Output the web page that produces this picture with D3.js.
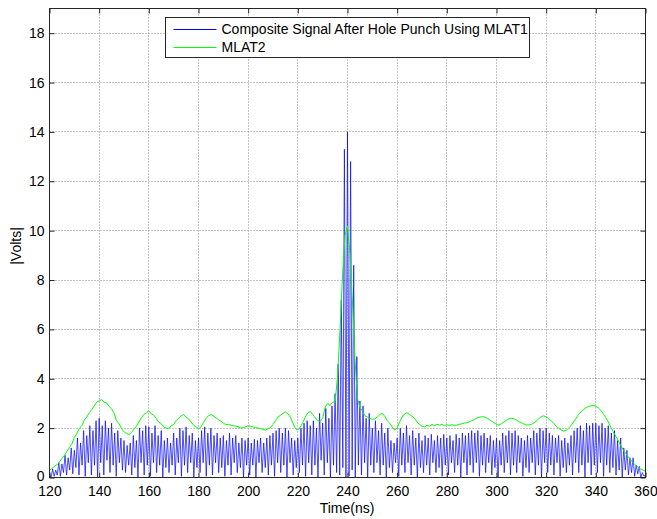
<!DOCTYPE html>
<html>
<head>
<meta charset="utf-8">
<script src="https://cdn.jsdelivr.net/npm/d3@7"></script>
<style>
  body { margin: 0; background: #fff; }
  text { font-family: "Liberation Sans", Arial, sans-serif; }
</style>
</head>
<body>
<div id="chart"></div>
<script>
// Axis ticks
const xTicks = [120, 140, 160, 180, 200, 220, 240, 260, 280, 300, 320, 340, 360];
const yTicks = [0, 2, 4, 6, 8, 10, 12, 14, 16, 18];

// Composite signal: one peak and one trough per 1.25 ns cycle, starting at 120 ns
const blueStart = 120;
const blueCycle = 1.25;
const bluePeak = [
  0.15, 0.35, 0.3, 0.6, 0.55, 0.9, 0.8, 1.2,
  1.1, 1.6, 1.4, 1.9, 1.7, 2.1, 1.9, 2.3,
  2.4, 2.1, 2.3, 2.0, 2.2, 1.8, 1.9, 1.6,
  1.5, 1.3, 1.4, 1.7, 1.5, 2.0, 1.9, 2.1,
  2.05, 1.8, 2.1, 1.7, 1.9, 1.5, 1.6, 1.4,
  1.8, 1.6, 2.0, 1.9, 2.05, 1.7, 1.8, 1.5,
  1.6, 1.9, 2.05, 1.8, 2.0, 1.7, 1.8, 1.6,
  1.7, 1.5, 1.8, 1.6, 1.7, 1.4, 1.6, 1.5,
  1.6, 1.4, 1.55, 1.5, 1.6, 1.4, 1.6, 1.7,
  1.8, 1.9, 2.0, 1.8, 2.0, 1.9, 1.6, 1.5,
  1.6, 2.0, 2.2, 2.3, 2.1, 2.3, 2.0, 2.6,
  2.2, 2.8, 2.4, 2.9, 3.4, 4.6, 7.2, 13.3,
  14.0, 12.8, 8.6, 4.9, 3.1, 2.9, 2.4, 2.6,
  2.0, 2.3, 1.9, 2.2, 1.8, 2.0, 1.5, 1.4,
  1.6, 2.0, 1.8, 2.1, 1.7, 1.9, 1.6, 1.8,
  1.5, 1.7, 1.6, 1.75, 1.5, 1.7, 1.6, 1.75,
  1.6, 1.7, 1.5, 1.75, 1.6, 1.8, 1.7, 1.8,
  1.9, 1.8, 1.9, 1.7, 1.8, 1.6, 1.7, 1.5,
  1.6, 1.5, 1.8, 1.7, 1.9, 1.8, 1.9, 1.7,
  1.6, 1.5, 1.7, 1.6, 1.9, 1.8, 2.0, 1.9,
  2.0, 1.8, 1.7, 1.6, 1.7, 1.5, 1.6, 1.4,
  1.7, 1.9, 2.0, 2.1, 1.9, 2.2, 2.1, 2.2,
  2.2, 2.1, 2.2, 2.0, 2.1, 1.8, 1.9, 1.5,
  1.6, 1.2, 1.1, 0.8, 0.8, 0.5, 0.45, 0.2,
  0.1
];
const blueTrough = [
  0.0, 0.05, 0.1, 0.05, 0.2, 0.1, 0.3, 0.15,
  0.4, 0.1, 0.5, 0.05, 0.6, 0.1, 0.5, 0.0,
  0.6, 0.1, 0.7, 0.2, 0.5, 0.05, 0.6, 0.3,
  0.2, 0.5, 0.1, 0.4, 0.0, 0.6, 0.1, 0.5,
  0.05, 0.6, 0.2, 0.5, 0.0, 0.4, 0.2, 0.5,
  0.1, 0.6, 0.05, 0.5, 0.2, 0.6, 0.0, 0.4,
  0.2, 0.6, 0.05, 0.5, 0.1, 0.6, 0.2, 0.4,
  0.05, 0.5, 0.1, 0.6, 0.2, 0.4, 0.0, 0.5,
  0.1, 0.5, 0.0, 0.6, 0.2, 0.4, 0.1, 0.5,
  0.05, 0.6, 0.2, 0.5, 0.0, 0.6, 0.1, 0.4,
  0.2, 0.5, 0.05, 0.6, 0.1, 0.5, 0.0, 0.7,
  0.1, 0.6, 0.0, 0.5, 0.2, 0.1, 0.4, 0.0,
  0.05, 0.3, 0.0, 0.5, 0.1, 0.6, 0.0, 0.5,
  0.2, 0.6, 0.1, 0.5, 0.0, 0.4, 0.2, 0.6,
  0.05, 0.5, 0.2, 0.6, 0.1, 0.5, 0.0, 0.4,
  0.2, 0.5, 0.1, 0.6, 0.2, 0.4, 0.05, 0.5,
  0.1, 0.6, 0.2, 0.5, 0.0, 0.6, 0.1, 0.5,
  0.2, 0.6, 0.05, 0.5, 0.2, 0.6, 0.1, 0.4,
  0.0, 0.5, 0.2, 0.6, 0.1, 0.5, 0.2, 0.6,
  0.05, 0.4, 0.2, 0.6, 0.1, 0.5, 0.0, 0.6,
  0.2, 0.5, 0.1, 0.6, 0.05, 0.4, 0.2, 0.5,
  0.1, 0.6, 0.2, 0.5, 0.0, 0.6, 0.1, 0.5,
  0.2, 0.6, 0.05, 0.5, 0.2, 0.4, 0.1, 0.3,
  0.0, 0.3, 0.1, 0.2, 0.05, 0.15, 0.0, 0.05
];

// MLAT2: one value per ns from 120 to 360
const greenStart = 120;
const greenStep = 1;
const greenValues = [
  0.30, 0.36, 0.45, 0.52, 0.62, 0.78, 0.90, 1.05, 1.22, 1.35,
  1.62, 1.78, 1.98, 2.10, 2.32, 2.45, 2.62, 2.75, 2.90, 3.05,
  3.10, 3.16, 3.05, 3.02, 2.88, 2.78, 2.60, 2.30, 2.18, 1.98,
  1.85, 1.78, 1.74, 1.82, 1.95, 2.08, 2.25, 2.42, 2.55, 2.62,
  2.70, 2.58, 2.52, 2.38, 2.25, 2.18, 2.05, 2.00, 1.98, 2.10,
  2.15, 2.30, 2.40, 2.50, 2.55, 2.45, 2.38, 2.25, 2.12, 2.05,
  1.98, 2.05, 2.22, 2.40, 2.50, 2.55, 2.50, 2.42, 2.35, 2.28,
  2.20, 2.15, 2.15, 2.12, 2.10, 2.08, 2.05, 2.00, 2.02, 2.05,
  2.10, 2.08, 2.05, 2.02, 2.00, 1.98, 1.95, 1.92, 1.98, 2.02,
  2.15, 2.30, 2.45, 2.52, 2.60, 2.66, 2.58, 2.45, 2.20, 1.98,
  1.92, 2.05, 2.22, 2.45, 2.62, 2.68, 2.55, 2.42, 2.30, 2.28,
  2.40, 2.85, 3.00, 2.92, 3.05, 3.05, 4.10, 6.00, 8.20, 9.80,
  10.20, 9.00, 7.10, 4.80, 3.20, 2.85, 2.70, 2.50, 2.45, 2.40,
  2.35, 2.38, 2.45, 2.55, 2.60, 2.48, 2.30, 2.20, 2.05, 1.92,
  2.00, 2.25, 2.45, 2.58, 2.62, 2.55, 2.48, 2.40, 2.25, 2.15,
  2.08, 2.05, 2.12, 2.08, 2.15, 2.10, 2.16, 2.12, 2.15, 2.10,
  2.14, 2.10, 2.14, 2.10, 2.12, 2.15, 2.18, 2.20, 2.22, 2.25,
  2.30, 2.35, 2.40, 2.44, 2.46, 2.46, 2.42, 2.36, 2.28, 2.22,
  2.15, 2.12, 2.18, 2.25, 2.32, 2.38, 2.40, 2.38, 2.33, 2.27,
  2.22, 2.17, 2.13, 2.13, 2.15, 2.20, 2.28, 2.38, 2.46, 2.50,
  2.45, 2.38, 2.30, 2.20, 2.08, 2.00, 1.93, 1.88, 1.90, 2.00,
  2.10, 2.25, 2.40, 2.55, 2.66, 2.75, 2.82, 2.88, 2.90, 2.92,
  2.88, 2.82, 2.72, 2.58, 2.42, 2.25, 2.05, 1.85, 1.68, 1.50,
  1.30, 1.12, 0.98, 0.85, 0.72, 0.60, 0.50, 0.42, 0.35, 0.30,
  0.25
];

const legendLabels = ["Composite Signal After Hole Punch Using MLAT1", "MLAT2"];
const seriesColors = ["#0000ff", "#00ff00"];

// Set up the dimensions and margins
const width = 657;
const height = 519;
const margin = { top: 8, right: 12, bottom: 42, left: 49 };
const innerW = width - margin.left - margin.right;
const innerH = height - margin.top - margin.bottom;

const svg = d3.select("#chart")
    .append("svg")
    .attr("width", width)
    .attr("height", height);

const g = svg.append("g")
    .attr("transform", `translate(${margin.left + 0.5},${margin.top + 0.5})`);

const x = d3.scaleLinear().domain([120, 360]).range([0, innerW]);
const y = d3.scaleLinear().domain([0, 19]).range([innerH, 0]);

// Dotted grid
g.append("g").selectAll("line")
    .data(xTicks.slice(1, -1))
    .enter().append("line")
    .attr("x1", d => Math.round(x(d))).attr("x2", d => Math.round(x(d)))
    .attr("y1", 0).attr("y2", innerH)
    .attr("stroke", "#8c8c8c")
    .attr("stroke-dasharray", "1,2");

g.append("g").selectAll("line")
    .data(yTicks.slice(1))
    .enter().append("line")
    .attr("x1", 0).attr("x2", innerW)
    .attr("y1", d => Math.round(y(d))).attr("y2", d => Math.round(y(d)))
    .attr("stroke", "#8c8c8c")
    .attr("stroke-dasharray", "1,2");

// Build the composite signal points: peak, trough, peak, ...
const bluePoints = [];
bluePeak.forEach(function (v, i) {
    bluePoints.push([blueStart + i * blueCycle, v]);
    if (i < blueTrough.length) {
        bluePoints.push([blueStart + (i + 0.5) * blueCycle, blueTrough[i]]);
    }
});
const greenPoints = greenValues.map((v, i) => [greenStart + i * greenStep, v]);

const line = d3.line()
    .x(d => x(d[0]))
    .y(d => y(d[1]));

const plot = g.append("g");

plot.append("path")
    .datum(bluePoints)
    .attr("fill", "none")
    .attr("stroke", seriesColors[0])
    .attr("stroke-width", 0.7)
    .attr("d", line);

plot.append("path")
    .datum(greenPoints)
    .attr("fill", "none")
    .attr("stroke", seriesColors[1])
    .attr("stroke-width", 1)
    .attr("d", line);

// Axes with inward ticks on all four sides
const axisColor = "#262626";

const xBottom = g.append("g")
    .attr("transform", `translate(0,${innerH})`)
    .call(d3.axisBottom(x).tickValues(xTicks).tickSizeInner(-5).tickSizeOuter(0).tickPadding(9));
const xTop = g.append("g")
    .call(d3.axisTop(x).tickValues(xTicks).tickSizeInner(-5).tickSizeOuter(0).tickFormat(""));
const yLeft = g.append("g")
    .call(d3.axisLeft(y).tickValues(yTicks).tickSizeInner(-5).tickSizeOuter(0).tickPadding(5));
const yRight = g.append("g")
    .attr("transform", `translate(${innerW},0)`)
    .call(d3.axisRight(y).tickValues(yTicks).tickSizeInner(-5).tickSizeOuter(0).tickFormat(""));

[xBottom, xTop, yLeft, yRight].forEach(function (a) {
    a.select(".domain").remove();
    a.selectAll("line").attr("stroke", axisColor);
    a.selectAll("text")
        .style("font-family", "'Liberation Sans', Arial, sans-serif")
        .style("font-size", "14px")
        .attr("fill", "#000");
});
// keep the "0" label clear of the "120" label below it
yLeft.selectAll(".tick text").filter(d => d === 0).attr("dy", "0.2em");

// Box around the axes
g.append("rect")
    .attr("x", 0).attr("y", 0)
    .attr("width", innerW).attr("height", innerH)
    .attr("fill", "none")
    .attr("stroke", axisColor);

// Axis titles
svg.append("text")
    .attr("x", margin.left + innerW / 2)
    .attr("y", 513)
    .attr("text-anchor", "middle")
    .style("font-size", "14px")
    .text("Time(ns)");

svg.append("text")
    .attr("transform", "translate(21,246) rotate(-90)")
    .attr("text-anchor", "middle")
    .style("font-size", "14px")
    .text("|Volts|");

// Legend
const legend = svg.append("g")
    .attr("class", "legend")
    .attr("transform", "translate(165.5,17.5)");

legend.append("rect")
    .attr("width", 364)
    .attr("height", 40)
    .attr("fill", "#fff")
    .attr("stroke", axisColor);

legendLabels.forEach(function (label, i) {
    const rowY = 12 + i * 18;
    legend.append("line")
        .attr("x1", 8).attr("x2", 51)
        .attr("y1", rowY).attr("y2", rowY)
        .attr("stroke", seriesColors[i]);
    legend.append("text")
        .attr("x", 56)
        .attr("y", rowY + 4.5)
        .style("font-size", "14px")
        .text(label);
});
</script>
</body>
</html>
